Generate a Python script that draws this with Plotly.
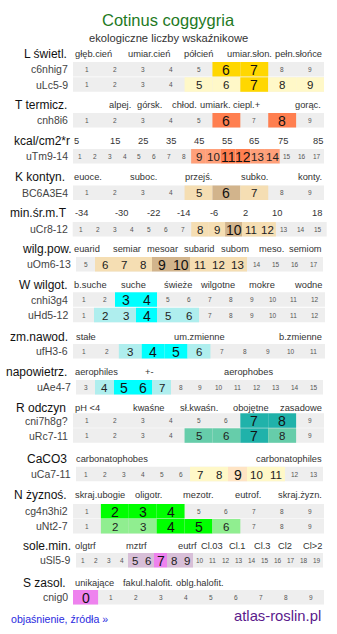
import plotly.graph_objects as go

# ---------------- DATA ----------------
title = "Cotinus coggygria"
subtitle = "ekologiczne liczby wskaźnikowe"
footer_left = "objaśnienie, źródła »"
footer_right = "atlas-roslin.pl"

section_names = ["L świetl.", "T termicz.", "kcal/cm2*r", "K kontyn.", "min.śr.m.T",
                 "wilg.pow.", "W wilgot.", "zm.nawod.", "napowietrz.", "R odczyn",
                 "CaCO3", "N żyznoś.", "sole.min.", "S zasol."]

L_labels = ["głęb.cień", "umiar.cień", "półcień", "umiar.słon.", "pełn.słońce"]
T_labels = ["alpej.", "górsk.", "chłod.", "umiark.", "ciepl.+", "gorąc."]
kcal_labels = ["5", "15", "25", "35", "45", "55", "65", "75", "85"]
K_labels = ["euoce.", "suboc.", "przejś.", "subko.", "konty."]
minT_labels = ["-34", "-30", "-22", "-14", "-6", "2", "10", "18"]
wilg_labels = ["euarid", "semiar", "mesoar", "subarid", "subom", "meso.", "semiom"]
W_labels = ["b.suche", "suche", "świeże", "wilgotne", "mokre", "wodne"]
zm_labels = ["stałe", "um.zmienne", "b.zmienne"]
napow_labels = ["aerophiles", "+-", "aerophobes"]
R_labels = ["pH <4", "kwaśne", "sł.kwaśn.", "obojętne", "zasadowe"]
Ca_labels = ["carbonatophobes", "carbonatophiles"]
N_labels = ["skraj.ubogie", "oligotr.", "mezotr.", "eutrof.", "skraj.żyzn."]
sole_labels = ["olgtrf", "mztrf", "eutrf", "Cl.03", "Cl.1", "Cl.3", "Cl2", "Cl>2"]
S_labels = ["unikające", "fakul.halofit.", "oblg.halofit."]
section_labels = [L_labels, T_labels, kcal_labels, K_labels, minT_labels, wilg_labels,
                  W_labels, zm_labels, napow_labels, R_labels, Ca_labels, N_labels,
                  sole_labels, S_labels]

row_codes = ["c6nhig7", "uLc5-9", "cnh8i6", "uTm9-14", "BC6A3E4", "uCr8-12", "uOm6-13",
             "cnhi3g4", "uHd5-12", "ufH3-6", "uAe4-7", "cni7h8g?", "uRc7-11", "uCa7-11",
             "cg4n3hi2", "uNt2-7", "uSl5-9", "cnig0"]
row_first = [1, 1, 1, 1, 1, 1, 5, 1, 1, 1, 3, 1, 1, 1, 1, 1, 1, 0]
row_last = [9, 9, 9, 17, 9, 15, 17, 12, 12, 11, 15, 9, 9, 13, 9, 9, 19, 9]
row_strong = [[6, 7], [7], [6, 8], [11, 12], [6], [10], [9, 10], [3, 4], [4], [4, 5],
              [5, 6], [7, 8], [7], [9], [2, 3, 4], [4, 5], [7], [0]]
row_weak = [[], [5, 6, 8, 9], [], [9, 10, 13, 14], [5, 7], [8, 9, 11, 12],
            [6, 7, 8, 11, 12, 13], [], [2, 3, 5, 6], [3, 6], [4, 7], [], [5, 6, 8],
            [7, 8, 10, 11], [], [2, 3, 6], [5, 6, 8, 9], []]

# ---------------- LAYOUT / STYLE ----------------
W, H = 337, 634
FONT = "Liberation Sans, Arial, sans-serif"
BG = "#eeeeee"
ROW_H = 14.5

# per-row geometry: x0, x1, y_top
row_geom = [(73, 324, 62), (73, 324, 77.3), (73, 324, 113), (73, 324, 149),
            (73, 324, 185.5), (72.7, 326.7, 222), (76, 323, 257), (73, 325, 292.3),
            (73, 325, 307.8), (73, 325, 344), (76, 323, 380), (73, 324, 413.3),
            (73, 324, 428.3), (76, 323, 466.8), (73, 324, 504), (73, 324, 519),
            (76, 323, 553), (73, 324, 590)]
# colours per row (strong, weak)
row_colors = [("#ffd700", "#fff8c8"), ("#ffd700", "#fff8c8"), ("#ff7f50", "#ffa07a"),
              ("#ff7f50", "#ffa07a"), ("#d2b48c", "#f5deb3"), ("#d2b48c", "#f5deb3"),
              ("#d2b48c", "#f5deb3"), ("#00ffff", "#afeeee"), ("#00ffff", "#afeeee"),
              ("#00ffff", "#afeeee"), ("#00ffff", "#afeeee"), ("#20b2aa", "#66cdaa"),
              ("#20b2aa", "#66cdaa"), ("#ffe4c4", "#fff8c8"), ("#00ff00", "#90ee90"),
              ("#00ff00", "#90ee90"), ("#ee82ee", "#d8bfd8"), ("#ee82ee", "#d8bfd8")]

section_y = [54, 105, 141, 177, 213, 249, 285, 337, 372, 408, 459, 495, 546, 583]
section_right = [68, 68, 71, 66, 68, 73, 69, 69, 68, 67, 68, 68, 72, 67]
# header category label x positions and anchors
label_pos = [
    [(74, "left"), (148.5, "center"), (198.5, "center"), (249, "center"), (323, "right")],
    [(120, "center"), (149, "center"), (184, "center"), (214.5, "center"), (246, "center"), (322, "right")],
    [(73, "left"), (115, "center"), (143.3, "center"), (171, "center"), (199, "center"),
     (226.7, "center"), (254, "center"), (282.7, "center"), (324, "right")],
    [(73, "left"), (143, "center"), (198.5, "center"), (254.5, "center"), (323, "right")],
    [(74, "left"), (121.5, "center"), (153, "center"), (183.5, "center"), (214, "center"),
     (245, "center"), (276.5, "center"), (323, "right")],
    [(73, "left"), (126.7, "center"), (162.5, "center"), (199.5, "center"), (234.7, "center"),
     (271, "center"), (323, "right")],
    [(73, "left"), (133, "center"), (178, "center"), (217.5, "center"), (261.7, "center"), (323, "right")],
    [(75, "left"), (199, "center"), (323, "right")],
    [(74, "left"), (149.5, "center"), (248.5, "center")],
    [(74, "left"), (149, "center"), (198.5, "center"), (250.5, "center"), (323, "right")],
    [(75, "left"), (323, "right")],
    [(74, "left"), (148.5, "center"), (197.5, "center"), (248, "center"), (323, "right")],
    [(74, "left"), (136.5, "center"), (187.5, "center"), (211.5, "center"), (237, "center"),
     (262.5, "center"), (285, "center"), (323, "right")],
    [(74, "left"), (148, "center"), (199.5, "center")],
]

fig = go.Figure()
shapes = []
ann = []


def add_text(x, y, text, size, color, xanchor="center", family=FONT):
    ann.append(dict(x=x, y=y, xref="x", yref="y", text=text, showarrow=False,
                    xanchor=xanchor, yanchor="middle", borderpad=0,
                    font=dict(family=family, size=size, color=color)))


# title
add_text(168, 19.5, title, 16.5, "#1f7a1f")
add_text(168, 38, subtitle, 11.2, "#333333")

# sections
for name, sy, sr, labs, pos in zip(section_names, section_y, section_right, section_labels, label_pos):
    add_text(sr, sy, name, 12, "#111111", "right")
    for lab, (lx, anc) in zip(labs, pos):
        add_text(lx, sy, lab, 9.3, "#333333", anc)

# rows
for i, code in enumerate(row_codes):
    x0, x1, yt = row_geom[i]
    n = row_last[i] - row_first[i] + 1
    cw = (x1 - x0) / n
    yc = yt + ROW_H / 2
    shapes.append(dict(type="rect", xref="x", yref="y", x0=x0, x1=x1, y0=yt, y1=yt + ROW_H,
                       fillcolor=BG, line=dict(width=0), layer="below"))
    add_text(x0 - 4, yc, code, 10.5, "#444444", "right")
    strong_c, weak_c = row_colors[i]
    for k in range(n):
        v = row_first[i] + k
        cx0 = x0 + k * cw
        if v in row_strong[i] or v in row_weak[i]:
            col = strong_c if v in row_strong[i] else weak_c
            shapes.append(dict(type="rect", xref="x", yref="y", x0=cx0, x1=cx0 + cw,
                               y0=yt, y1=yt + ROW_H, fillcolor=col, line=dict(width=0),
                               layer="below"))
            if v in row_strong[i]:
                add_text(cx0 + cw / 2, yc + 0.5, str(v), 14, "#111111")
            else:
                add_text(cx0 + cw / 2, yc + 0.5, str(v), 11.5, "#222222")
        else:
            add_text(cx0 + cw / 2, yc, str(v), 6.5, "#555555")

# footer
add_text(10, 619, footer_left, 10.6, "#2a2ae0", "left")
add_text(322, 616, footer_right, 14.8, "#5b1a8c", "right")

fig.update_layout(
    width=W, height=H, margin=dict(l=0, r=0, t=0, b=0),
    paper_bgcolor="white", plot_bgcolor="white",
    xaxis=dict(range=[0, W], visible=False, fixedrange=True),
    yaxis=dict(range=[H, 0], visible=False, fixedrange=True),
    shapes=shapes, annotations=ann, showlegend=False,
)
fig.write_html("out.html", config={"displayModeBar": False})
